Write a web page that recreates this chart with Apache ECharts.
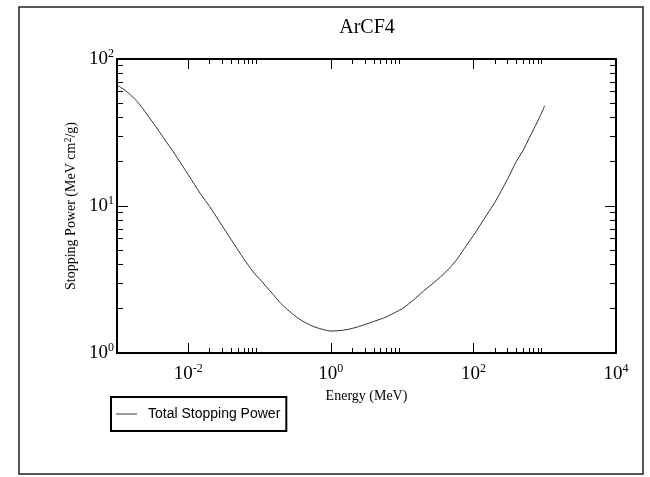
<!DOCTYPE html>
<html>
<head>
<meta charset="utf-8">
<script src="https://cdn.jsdelivr.net/npm/echarts@6/dist/echarts.min.js"></script>
<style>
  html, body { margin: 0; padding: 0; background: #fff; }
  #chart { width: 650px; height: 477px; }
</style>
</head>
<body>
<div id="chart"></div>
<script>
// Total stopping power of electrons in ArCF4 (MeV cm^2/g) versus kinetic energy (MeV)
const energy = [
  0.001, 0.00125, 0.0015, 0.002, 0.003, 0.004, 0.005, 0.006, 0.008,
  0.01, 0.015, 0.02, 0.03, 0.04, 0.05, 0.06, 0.08,
  0.1, 0.15, 0.2, 0.3, 0.4, 0.5, 0.6, 0.8,
  1, 1.5, 2, 3, 4, 5, 6, 8,
  10, 15, 20, 30, 40, 50, 60, 80,
  100, 150, 200, 300, 400, 500, 600, 800, 1000
];
const stopping = [
  66.5, 62.0, 57.8, 50.2, 38.5, 31.6, 27.0, 23.8, 19.3,
  16.3, 12.0, 9.9, 7.3, 5.9, 5.0, 4.38, 3.6,
  3.19, 2.55, 2.17, 1.82, 1.65, 1.56, 1.50, 1.44,
  1.41, 1.43, 1.47, 1.56, 1.64, 1.70, 1.76, 1.89,
  2.0, 2.33, 2.64, 3.1, 3.52, 3.94, 4.4, 5.4,
  6.3, 8.55, 10.6, 15.2, 20.1, 24.0, 28.7, 37.9, 48.0
];

// Axis tick positions
const xMajorTicks = [0.01, 1, 100, 10000];
const xMinorTicks = [0.02, 0.03, 0.04, 0.05, 0.06, 0.07, 0.08, 0.09,
                     2, 3, 4, 5, 6, 7, 8, 9,
                     200, 300, 400, 500, 600, 700, 800, 900];
const yMajorTicks = [1, 10, 100];
const yMinorTicks = [2, 3, 4, 5, 6, 7, 8, 9, 20, 30, 40, 50, 60, 70, 80, 90];

const serif = 'Liberation Serif';
const sans = 'Liberation Sans';

function powerLabel(v) {
  const e = Math.round(Math.log10(v));
  return '{b|10}{e|' + e + '}';
}
const powerRich = {
  b: { fontFamily: serif, fontSize: 19, color: '#000', lineHeight: 23 },
  e: { fontFamily: serif, fontSize: 12, color: '#000', verticalAlign: 'top', lineHeight: 12 }
};

const frameLine = { lineStyle: { color: '#000', width: 2 } };
const tickStyle = { color: '#000', width: 1 };

function logAxis(min, max, extra) {
  return Object.assign({
    type: 'log', logBase: 10, min: min, max: max,
    splitLine: { show: false },
    axisLine: { show: false },
    axisLabel: { show: false },
    axisTick: { show: false }
  }, extra);
}

const chart = echarts.init(document.getElementById('chart'), null, { renderer: 'canvas' });

chart.setOption({
  animation: false,
  backgroundColor: '#fff',
  grid: { left: 117, right: 34, top: 59, bottom: 124, outerBoundsMode: 'none' },
  graphic: [
    {
      type: 'rect', silent: true,
      shape: { x: 19, y: 7, width: 624, height: 467 },
      style: { fill: 'none', stroke: '#222', lineWidth: 1.5 }
    },
    {
      type: 'text', silent: true, x: 367, y: 28,
      style: { text: 'ArCF4', fontFamily: serif, fontSize: 20, fill: '#000',
               align: 'center', verticalAlign: 'middle' }
    }
  ],
  xAxis: [
    logAxis(1e-3, 1e4, {
      position: 'bottom',
      axisLine: { show: true, onZero: false, lineStyle: frameLine.lineStyle },
      axisTick: { show: true, inside: true, length: 10, customValues: xMajorTicks, lineStyle: tickStyle },
      axisLabel: { show: true, margin: 10, customValues: xMajorTicks, formatter: powerLabel, rich: powerRich },
      name: 'Energy (MeV)', nameLocation: 'middle', nameGap: 26,
      nameTextStyle: { fontFamily: serif, fontSize: 14, color: '#000' }
    }),
    logAxis(1e-3, 1e4, {
      position: 'bottom',
      axisTick: { show: true, inside: true, length: 5, customValues: xMinorTicks, lineStyle: tickStyle }
    }),
    logAxis(1e-3, 1e4, {
      position: 'top',
      axisLine: { show: true, onZero: false, lineStyle: frameLine.lineStyle },
      axisTick: { show: true, inside: true, length: 10, customValues: xMajorTicks, lineStyle: tickStyle }
    }),
    logAxis(1e-3, 1e4, {
      position: 'top',
      axisTick: { show: true, inside: true, length: 5, customValues: xMinorTicks, lineStyle: tickStyle }
    })
  ],
  yAxis: [
    logAxis(1, 100, {
      position: 'left',
      axisLine: { show: true, onZero: false, lineStyle: frameLine.lineStyle },
      axisTick: { show: true, inside: true, length: 11, customValues: yMajorTicks, lineStyle: tickStyle },
      axisLabel: { show: true, margin: 3, customValues: yMajorTicks, formatter: powerLabel, rich: powerRich },
      name: '{a|Stopping Power (MeV cm}{s|2}{a|/g)}',
      nameLocation: 'middle', nameGap: 33, nameRotate: 90,
      nameTextStyle: {
        rich: {
          a: { fontFamily: serif, fontSize: 14, color: '#000', lineHeight: 16 },
          s: { fontFamily: serif, fontSize: 10, color: '#000', verticalAlign: 'top', lineHeight: 10 }
        }
      }
    }),
    logAxis(1, 100, {
      position: 'left',
      axisTick: { show: true, inside: true, length: 6, customValues: yMinorTicks, lineStyle: tickStyle }
    }),
    logAxis(1, 100, {
      position: 'right',
      axisLine: { show: true, onZero: false, lineStyle: frameLine.lineStyle },
      axisTick: { show: true, inside: true, length: 11, customValues: yMajorTicks, lineStyle: tickStyle }
    }),
    logAxis(1, 100, {
      position: 'right',
      axisTick: { show: true, inside: true, length: 6, customValues: yMinorTicks, lineStyle: tickStyle }
    })
  ],
  legend: {
    left: 111, top: 397,
    padding: [10, 6, 10, 5],
    borderColor: '#000', borderWidth: 2,
    itemWidth: 21, itemHeight: 1,
    icon: 'rect',
    itemStyle: { color: '#333' },
    textStyle: { fontFamily: sans, fontSize: 14, color: '#000', padding: [0, 0, 0, 6] },
    data: ['Total Stopping Power']
  },
  series: [
    {
      name: 'Total Stopping Power',
      type: 'line',
      xAxisIndex: 0, yAxisIndex: 0,
      showSymbol: false,
      smooth: 0.3,
      color: '#333',
      lineStyle: { color: '#333', width: 1 },
      data: energy.map((e, i) => [e, stopping[i]])
    }
  ]
});
</script>
</body>
</html>
